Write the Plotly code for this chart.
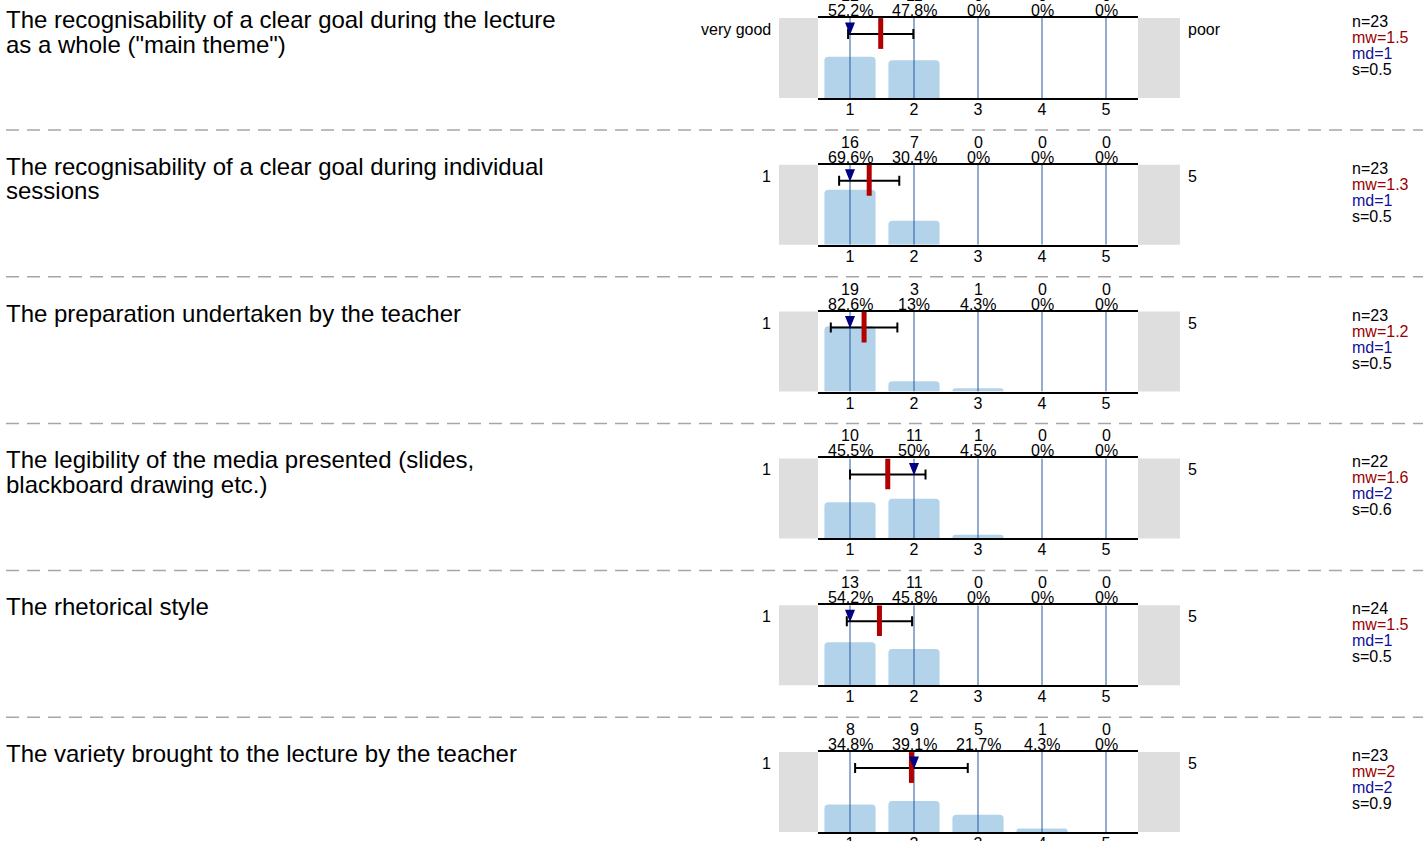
import plotly.graph_objects as go

# ---------------- data ----------------
questions = [
    ["The recognisability of a clear goal during the lecture", "as a whole (\"main theme\")"],
    ["The recognisability of a clear goal during individual", "sessions"],
    ["The preparation undertaken by the teacher"],
    ["The legibility of the media presented (slides,", "blackboard drawing etc.)"],
    ["The rhetorical style"],
    ["The variety brought to the lecture by the teacher"],
]
categories = [1, 2, 3, 4, 5]
tick_labels = ["1", "2", "3", "4", "5"]
counts = [
    [12, 11, 0, 0, 0],
    [16, 7, 0, 0, 0],
    [19, 3, 1, 0, 0],
    [10, 11, 1, 0, 0],
    [13, 11, 0, 0, 0],
    [8, 9, 5, 1, 0],
]
percents = [
    [52.2, 47.8, 0, 0, 0],
    [69.6, 30.4, 0, 0, 0],
    [82.6, 13, 4.3, 0, 0],
    [45.5, 50, 4.5, 0, 0],
    [54.2, 45.8, 0, 0, 0],
    [34.8, 39.1, 21.7, 4.3, 0],
]
n_values = [23, 23, 23, 22, 24, 23]
mean_values = [1.48, 1.30, 1.22, 1.59, 1.46, 1.96]
median_values = [1, 1, 1, 2, 1, 2]
sd_values = [0.51, 0.47, 0.52, 0.59, 0.51, 0.88]
left_labels = ["very good", "1", "1", "1", "1", "1"]
right_labels = ["poor", "5", "5", "5", "5", "5"]

# ---------------- layout constants ----------------
W, H = 1423, 841
FONT = "Liberation Sans, Arial, Helvetica, sans-serif"
BOX_TOP0 = 18.0
STEP = 146.8
BOX_H = 80.0
PLOT_X0, PLOT_X1 = 818.0, 1138.0
GRAY_L = (779.0, 818.0)
GRAY_R = (1138.0, 1180.0)
YMAX = 101.0
PX_PER_X = (PLOT_X1 - PLOT_X0) / 5.0

BAR_COLOR = "#b3d3eb"
GRID_COLOR = "#275b98"
MEAN_COLOR = "#b00000"
MEDIAN_COLOR = "#000080"
MW_TEXT = "#9a0000"
MD_TEXT = "#10109a"


def px_x(p):
    return p / W


def px_y(p):
    return 1 - p / H


def yval(d):
    """data y for a point d pixels below the top of the box"""
    return YMAX * (1 - d / BOX_H)


fig = go.Figure()
annotations = []
shapes = []

for k in range(len(questions)):
    top = BOX_TOP0 + STEP * k
    bot = top + BOX_H
    xa = "x" if k == 0 else f"x{k+1}"
    ya = "y" if k == 0 else f"y{k+1}"
    xaxis_name = "xaxis" if k == 0 else f"xaxis{k+1}"
    yaxis_name = "yaxis" if k == 0 else f"yaxis{k+1}"

    fig.update_layout({
        xaxis_name: dict(
            domain=[px_x(PLOT_X0), px_x(PLOT_X1)], range=[0.5, 5.5],
            anchor=ya, tickvals=categories, ticktext=tick_labels,
            showgrid=False, zeroline=False, showline=True, mirror=True,
            linecolor="black", linewidth=1.5, ticks="", automargin=False,
            ticklabelstandoff=-4,
            tickfont=dict(family=FONT, size=16, color="black"), fixedrange=True,
        ),
        yaxis_name: dict(
            domain=[px_y(bot), px_y(top)], range=[0, YMAX], anchor=xa,
            showgrid=False, zeroline=False, showline=False, automargin=False,
            showticklabels=False, ticks="", fixedrange=True,
        ),
    })

    # bars
    fig.add_trace(go.Bar(
        x=categories, y=percents[k], xaxis=xa, yaxis=ya, width=0.8,
        marker=dict(color=BAR_COLOR, cornerradius=4, line=dict(width=0)),
        hoverinfo="skip", showlegend=False,
    ))
    # vertical lines at each category (drawn over the bars)
    gx, gy = [], []
    for c in categories:
        gx += [c, c, None]
        gy += [0, YMAX, None]
    fig.add_trace(go.Scatter(
        x=gx, y=gy, xaxis=xa, yaxis=ya, mode="lines",
        line=dict(color=GRID_COLOR, width=1), hoverinfo="skip", showlegend=False,
    ))
    # error bar (mean +/- sd)
    y_err = yval(16)
    fig.add_trace(go.Scatter(
        x=[mean_values[k]], y=[y_err], xaxis=xa, yaxis=ya, mode="markers",
        marker=dict(size=1, color="rgba(0,0,0,0)"),
        error_x=dict(type="data", array=[sd_values[k]], color="black",
                     thickness=2, width=5),
        hoverinfo="skip", showlegend=False,
    ))
    # mean marker
    fig.add_trace(go.Scatter(
        x=[mean_values[k]], y=[yval(15.5)], xaxis=xa, yaxis=ya, mode="markers",
        marker=dict(symbol="line-ns-open", size=22, color=MEAN_COLOR,
                    line=dict(color=MEAN_COLOR, width=5)),
        hoverinfo="skip", showlegend=False,
    ))
    # median triangle
    hw = 5.0 / PX_PER_X
    m = median_values[k]
    fig.add_trace(go.Scatter(
        x=[m - hw, m + hw, m, m - hw], y=[yval(4.5), yval(4.5), yval(17), yval(4.5)],
        xaxis=xa, yaxis=ya, mode="lines", fill="toself",
        fillcolor=MEDIAN_COLOR, line=dict(width=0, color=MEDIAN_COLOR),
        hoverinfo="skip", showlegend=False,
    ))

    # gray side blocks
    for (g0, g1) in (GRAY_L, GRAY_R):
        shapes.append(dict(type="rect", xref="paper", yref="paper",
                           x0=px_x(g0), x1=px_x(g1), y0=px_y(bot), y1=px_y(top),
                           fillcolor="#dedede", line=dict(width=0), layer="below"))

    # counts and percent labels
    for c, cnt, p in zip(categories, counts[k], percents[k]):
        annotations.append(dict(x=c, xref=xa, y=px_y(top - 22.5), yref="paper",
                                text=str(cnt), showarrow=False, xanchor="center",
                                yanchor="middle", font=dict(family=FONT, size=16, color="black")))
        annotations.append(dict(x=c, xref=xa, y=px_y(top - 7.5), yref="paper",
                                text=f"{p:g}%", showarrow=False, xanchor="center",
                                yanchor="middle", font=dict(family=FONT, size=16, color="black")))

    # question text
    for i, line in enumerate(questions[k]):
        annotations.append(dict(x=px_x(4), xref="paper", y=px_y(top + 1.5 + 24.5 * i), yref="paper",
                                text=line, showarrow=False, xanchor="left", yanchor="middle",
                                font=dict(family=FONT, size=24, color="black")))

    # scale end labels
    annotations.append(dict(x=px_x(773), xref="paper", y=px_y(top + 11.5), yref="paper",
                            text=left_labels[k], showarrow=False, xanchor="right", yanchor="middle",
                            font=dict(family=FONT, size=16, color="black")))
    annotations.append(dict(x=px_x(1186), xref="paper", y=px_y(top + 11.5), yref="paper",
                            text=right_labels[k], showarrow=False, xanchor="left", yanchor="middle",
                            font=dict(family=FONT, size=16, color="black")))

    # statistics
    stats = [
        (f"n={n_values[k]}", "black"),
        (f"mw={round(mean_values[k], 1):g}", MW_TEXT),
        (f"md={median_values[k]:g}", MD_TEXT),
        (f"s={round(sd_values[k], 1):g}", "black"),
    ]
    for i, (t, col) in enumerate(stats):
        annotations.append(dict(x=px_x(1350), xref="paper", y=px_y(top + 3.5 + 16 * i), yref="paper",
                                text=t, showarrow=False, xanchor="left", yanchor="middle",
                                font=dict(family=FONT, size=16, color=col)))

    # dashed separator
    if k < len(questions) - 1:
        sy = 130 + STEP * k
        shapes.append(dict(type="line", xref="paper", yref="paper",
                           x0=px_x(6), x1=1, y0=px_y(sy), y1=px_y(sy),
                           line=dict(color="#a6a6a6", width=1.5, dash="13px,8px")))

fig.update_layout(
    width=W, height=H, autosize=False,
    margin=dict(l=0, r=0, t=0, b=0, pad=0, autoexpand=False),
    paper_bgcolor="white", plot_bgcolor="white",
    barmode="overlay", showlegend=False,
    annotations=annotations, shapes=shapes,
    font=dict(family=FONT, size=16, color="black"),
)

fig.write_html(
    "out.html",
    config={"displayModeBar": False},
    post_script=(
        "document.body.style.margin='0';"
        "document.body.style.overflow='hidden';"
        "document.documentElement.style.overflow='hidden';"
    ),
)
